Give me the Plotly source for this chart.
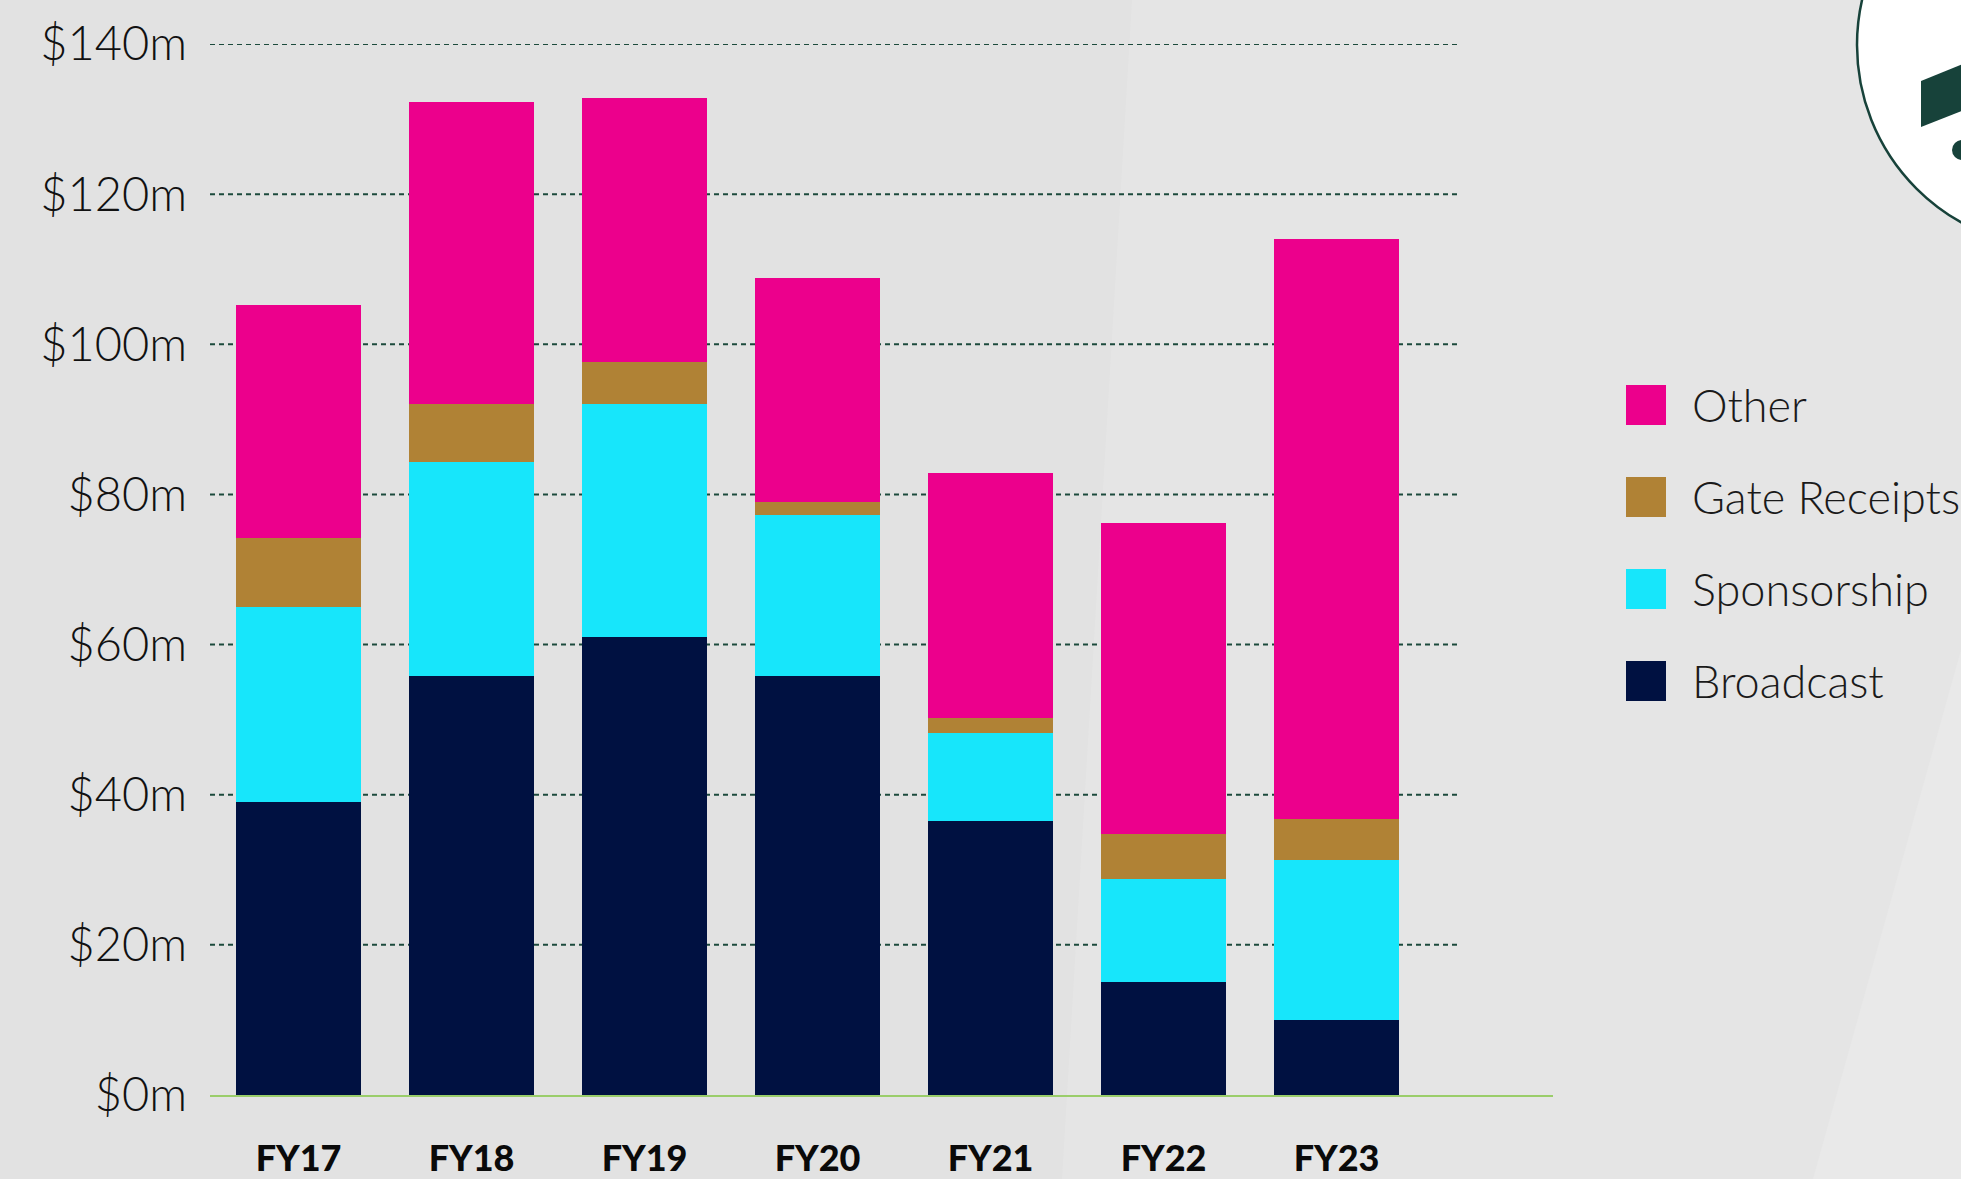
import plotly.graph_objects as go

# ---------------- data ----------------
categories = ["FY17", "FY18", "FY19", "FY20", "FY21", "FY22", "FY23"]
broadcast = [39.0, 55.8, 61.0, 55.8, 36.5, 15.0, 10.0]
sponsorship = [26.0, 28.5, 31.0, 21.5, 11.7, 13.8, 21.3]
gate_receipts = [9.2, 7.7, 5.7, 1.7, 2.0, 6.0, 5.4]
other = [31.1, 40.3, 35.1, 29.8, 32.6, 41.4, 77.3]

series_names = ["Broadcast", "Sponsorship", "Gate Receipts", "Other"]
series_values = [broadcast, sponsorship, gate_receipts, other]
series_colors = ["#001141", "#17e6fb", "#b08235", "#ec008c"]

y_tick_values = [0, 20, 40, 60, 80, 100, 120, 140]
y_tick_labels = ["$0m", "$20m", "$40m", "$60m", "$80m", "$100m", "$120m", "$140m"]

# ---------------- layout geometry ----------------
W, H = 1961, 1179
ML, MR, MT, MB = 210, 408, 44, 84
PW, PH = W - ML - MR, H - MT - MB


def px(x):
    return (x - ML) / PW


def py(y):
    return (H - MB - y) / PH


fig = go.Figure()
for name, vals, col in zip(series_names, series_values, series_colors):
    fig.add_trace(go.Bar(x=categories, y=vals, name=name, marker=dict(color=col, line=dict(width=0)),
                         showlegend=False))

shapes = []
# subtle background panels
shapes.append(dict(type="path", xref="paper", yref="paper", layer="below",
                   path=f"M {px(1132)} {py(0)} L {px(1961)} {py(0)} L {px(1961)} {py(1179)} L {px(1062)} {py(1179)} Z",
                   fillcolor="#e5e5e5", line=dict(width=0)))
shapes.append(dict(type="path", xref="paper", yref="paper", layer="below",
                   path=f"M {px(1961)} {py(650)} L {px(1961)} {py(1179)} L {px(1813)} {py(1179)} Z",
                   fillcolor="#e9e9e9", line=dict(width=0)))
# dashed gridlines
for v in y_tick_values[1:]:
    shapes.append(dict(type="line", xref="x", yref="y", layer="below",
                       x0=-0.512, x1=6.697, y0=v, y1=v,
                       line=dict(color="#1c4a3c", width=2, dash="5px,4px")))

# legend (manual, large square swatches)
legend_order = ["Other", "Gate Receipts", "Sponsorship", "Broadcast"]
legend_tops = [385, 477, 569, 661]
annotations = []
for nm, top in zip(legend_order, legend_tops):
    col = series_colors[series_names.index(nm)]
    shapes.append(dict(type="rect", xref="paper", yref="paper", layer="above",
                       x0=px(1626), x1=px(1666), y0=py(top), y1=py(top + 40),
                       fillcolor=col, line=dict(width=0)))
    annotations.append(dict(xref="paper", yref="paper", x=px(1690), y=py(top + 20),
                            xanchor="left", yanchor="middle", text=nm, showarrow=False,
                            font=dict(family="Lato", size=45, color="#1a1a1a", weight=300)))

# logo badge top-right
shapes.append(dict(type="circle", xref="paper", yref="paper", layer="above",
                   x0=px(1857), x1=px(2263), y0=py(248), y1=py(-158),
                   fillcolor="white", line=dict(color="#17423a", width=2.5)))
shapes.append(dict(type="path", xref="paper", yref="paper", layer="above",
                   path=f"M {px(1921)} {py(81)} L {px(2000)} {py(49)} L {px(2000)} {py(96)} L {px(1921)} {py(127)} Z",
                   fillcolor="#17423a", line=dict(width=0)))
shapes.append(dict(type="circle", xref="paper", yref="paper", layer="above",
                   x0=px(1952), x1=px(1972), y0=py(160), y1=py(140),
                   fillcolor="#17423a", line=dict(width=0)))

fig.update_layout(
    width=W, height=H,
    margin=dict(l=ML, r=MR, t=MT, b=MB, pad=0, autoexpand=False),
    barmode="stack", bargap=0.2775,
    paper_bgcolor="#e2e2e2", plot_bgcolor="rgba(0,0,0,0)",
    shapes=shapes, annotations=annotations,
    showlegend=False,
    xaxis=dict(type="category", range=[-0.512, 7.251], showgrid=False, zeroline=False,
               showline=True, linecolor="#9acd6a", linewidth=2, layer="below traces",
               ticks="", ticklabelstandoff=31, automargin=False,
               tickfont=dict(family="Lato", size=36, color="#0a0a0a", weight=900)),
    yaxis=dict(range=[0, 140], tickvals=y_tick_values, ticktext=y_tick_labels,
               showgrid=False, zeroline=False, showline=False, ticks="",
               ticklabelstandoff=22, automargin=False,
               tickfont=dict(family="Lato", size=47, color="#111111", weight=300)),
)

fig.write_html("out.html", config={"displayModeBar": False},
               post_script="document.body.style.margin='0';document.body.style.overflow='hidden';")
